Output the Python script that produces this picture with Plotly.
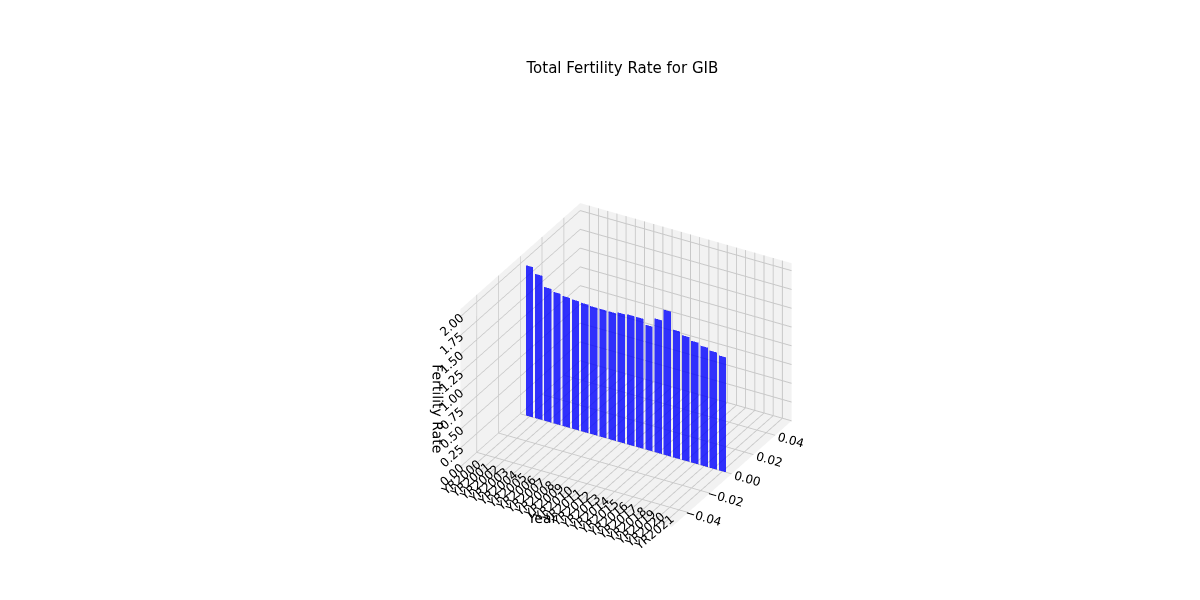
import plotly.graph_objects as go

years = ["YR%d" % y for y in range(2000, 2022)]
rates = [2.0, 1.92, 1.78, 1.75, 1.73, 1.72, 1.71, 1.70, 1.70, 1.70, 1.72, 1.73, 1.73, 1.66,
         1.78, 1.93, 1.70, 1.66, 1.62, 1.59, 1.56, 1.53]

# flat bars in the y=0 plane, like ax.bar(..., zs=0, zdir='y')
xs, ys, zs, ii, jj, kk = [], [], [], [], [], []
for n, h in enumerate(rates):
    b = len(xs)
    xs += [n - 0.4, n + 0.4, n + 0.4, n - 0.4]
    ys += [0, 0, 0, 0]
    zs += [0, 0, h, h]
    ii += [b, b]
    jj += [b + 1, b + 2]
    kk += [b + 2, b + 3]

fig = go.Figure(go.Mesh3d(x=xs, y=ys, z=zs, i=ii, j=jj, k=kk, color="blue",
                          opacity=0.8, flatshading=True, hoverinfo="skip",
                          lighting=dict(ambient=1, diffuse=0, specular=0)))

axis_common = dict(showbackground=True, backgroundcolor="rgb(242,242,242)",
                   gridcolor="rgb(200,200,200)", zeroline=False,
                   tickfont=dict(size=12, color="black"))
fig.update_layout(
    title=dict(text="Total Fertility Rate for GIB", x=0.512, y=0.91,
               font=dict(family="DejaVu Sans", size=15, color="black")),
    width=1200, height=600, paper_bgcolor="white",
    font=dict(family="DejaVu Sans", color="black"),
    margin=dict(l=0, r=0, t=60, b=0),
    scene=dict(
        domain=dict(x=[0.25, 0.78], y=[0.0, 0.9]),
        xaxis=dict(axis_common, title=dict(text="Year", font=dict(color="black")),
                   tickvals=list(range(len(years))), tickangle=-40,
                   ticktext=years, range=[-1, len(years)]),
        yaxis=dict(axis_common, title=dict(text=""), range=[-0.055, 0.055],
                   tickvals=[-0.04, -0.02, 0, 0.02, 0.04],
                   ticktext=["−0.04", "−0.02", "0.00", "0.02", "0.04"]),
        zaxis=dict(axis_common, title=dict(text="Fertility Rate", font=dict(color="black")),
                   range=[0, 2.1],
                   tickvals=[0, 0.25, 0.5, 0.75, 1, 1.25, 1.5, 1.75, 2],
                   ticktext=["0.00", "0.25", "0.50", "0.75", "1.00", "1.25", "1.50", "1.75", "2.00"]),
        aspectmode="manual", aspectratio=dict(x=1, y=1, z=0.75),
        camera=dict(eye=dict(x=0.85, y=-1.5, z=1.0),
                    projection=dict(type="orthographic")),
    ),
)
fig.write_html("out.html")
